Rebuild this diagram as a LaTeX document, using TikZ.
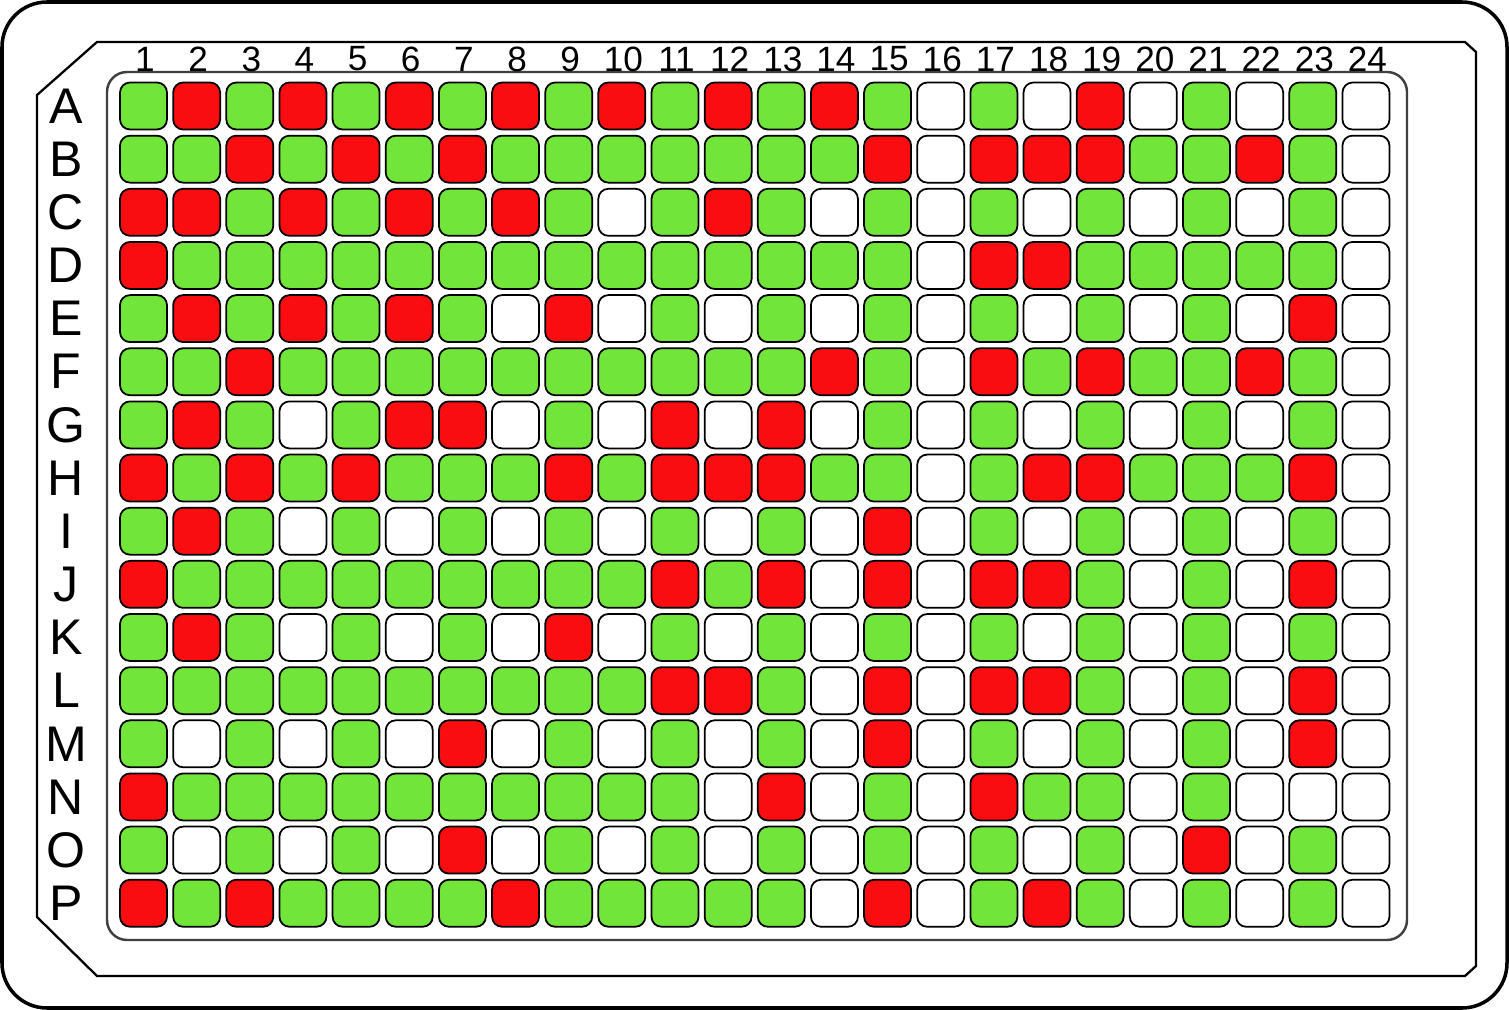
\documentclass[tikz,border=0pt]{standalone}
\usepackage{fontspec}
\setmainfont{Liberation Sans}
\usepackage{tikz}
\usepackage{xcolor}

\definecolor{wellG}{RGB}{114,229,58}
\definecolor{wellR}{RGB}{250,13,16}
\definecolor{wellW}{RGB}{255,255,255}

\tikzset{
  well/.style={draw=black, line width=1pt, rounded corners=0.2cm,
    minimum width=0.94cm, minimum height=0.94cm, inner sep=0pt},
  collabel/.style={font=\fontsize{20}{20}\selectfont, inner sep=0pt},
  rowlabel/.style={font=\fontsize{28.5}{28.5}\selectfont, inner sep=0pt}
}

\begin{document}
\begin{tikzpicture}[x=0.02cm, y=-0.02cm]
\useasboundingbox (0,0) rectangle (1509,1010);
% frame and plate
\draw[line width=2pt, rounded corners=0.9cm] (2,2) rectangle (1507,1008);
\draw[line width=1.3pt] (97,42) -- (1465,42) -- (1476,52) -- (1476,966)
  -- (1465,976) -- (97,976) -- (37,917) -- (37,95) -- cycle;
\draw[line width=1.4pt, draw=black!75, rounded corners=0.4cm] (107,72) rectangle (1407,940);
% column numbers
\foreach \c in {1,...,24}
  \node[collabel] (col\c) at ({145+(\c-1)*53.15},59) {\c};
% rows of wells
\foreach \rw/\cols [count=\r] in {
  A/{G,R,G,R,G,R,G,R,G,R,G,R,G,R,G,W,G,W,R,W,G,W,G,W},
  B/{G,G,R,G,R,G,R,G,G,G,G,G,G,G,R,W,R,R,R,G,G,R,G,W},
  C/{R,R,G,R,G,R,G,R,G,W,G,R,G,W,G,W,G,W,G,W,G,W,G,W},
  D/{R,G,G,G,G,G,G,G,G,G,G,G,G,G,G,W,R,R,G,G,G,G,G,W},
  E/{G,R,G,R,G,R,G,W,R,W,G,W,G,W,G,W,G,W,G,W,G,W,R,W},
  F/{G,G,R,G,G,G,G,G,G,G,G,G,G,R,G,W,R,G,R,G,G,R,G,W},
  G/{G,R,G,W,G,R,R,W,G,W,R,W,R,W,G,W,G,W,G,W,G,W,G,W},
  H/{R,G,R,G,R,G,G,G,R,G,R,R,R,G,G,W,G,R,R,G,G,G,R,W},
  I/{G,R,G,W,G,W,G,W,G,W,G,W,G,W,R,W,G,W,G,W,G,W,G,W},
  J/{R,G,G,G,G,G,G,G,G,G,R,G,R,W,R,W,R,R,G,W,G,W,R,W},
  K/{G,R,G,W,G,W,G,W,R,W,G,W,G,W,G,W,G,W,G,W,G,W,G,W},
  L/{G,G,G,G,G,G,G,G,G,G,R,R,G,W,R,W,R,R,G,W,G,W,R,W},
  M/{G,W,G,W,G,W,R,W,G,W,G,W,G,W,R,W,G,W,G,W,G,W,R,W},
  N/{R,G,G,G,G,G,G,G,G,G,G,W,R,W,G,W,R,G,G,W,G,W,W,W},
  O/{G,W,G,W,G,W,R,W,G,W,G,W,G,W,G,W,G,W,G,W,R,W,G,W},
  P/{R,G,R,G,G,G,G,R,G,G,G,G,G,W,R,W,G,R,G,W,G,W,G,W}} {
  \node[rowlabel] (row\rw) at (66,{106+(\r-1)*53.15}) {\rw};
  \foreach \k [count=\c] in \cols
    \node[well, fill=well\k] (\rw\c) at ({143.5+(\c-1)*53.15},{106+(\r-1)*53.15}) {};
}
\end{tikzpicture}
\end{document}
